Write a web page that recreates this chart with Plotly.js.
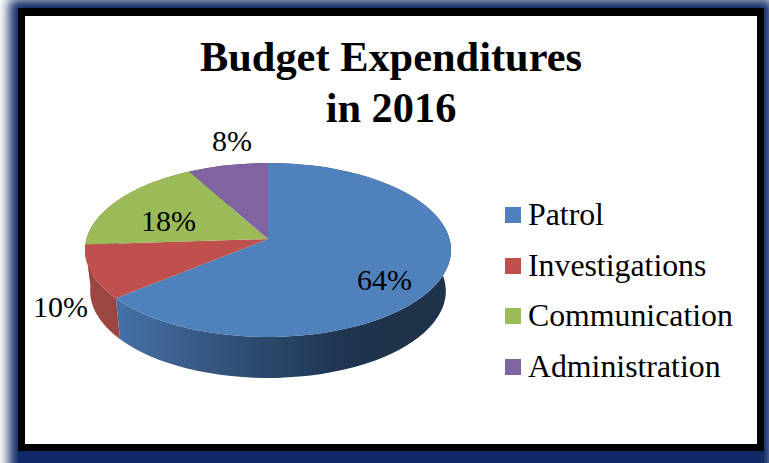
<!DOCTYPE html>
<html><head><meta charset="utf-8">
<script src="https://cdn.plot.ly/plotly-3.0.1.min.js"></script>
<style>
html,body{margin:0;padding:0;background:#fff;overflow:hidden;width:769px;height:463px}
#glow{position:absolute;left:18px;top:8px;width:746px;height:470px;background:#0f2a66;box-shadow:0 0 11px 9px #0f2a66}
#band{position:absolute;left:18px;top:8px;width:746px;height:443px;background:#000}
#inner{position:absolute;left:25px;top:16px;width:732px;height:428px;background:#fff}
#chart{position:absolute;left:0;top:0;width:769px;height:463px}
</style></head><body>
<div id="glow"></div><div id="band"></div><div id="inner"></div><div id="chart"></div>
<script>
var categories = ['Patrol','Investigations','Communication','Administration'];
var values = [64,10,18,8];
var topColors = ['#4f81bd','#c0504d','#9bbb59','#8064a2'];
var sideColors = ['#2f4f75','#9c4643','#9c4643','#64507f'];
var labelPixels = [[384,279],[60,306],[168,220],[232,140]];
var legendRows = [215,266,316,367];

var W=769,H=463;
var FONT='"Liberation Serif","Times New Roman",serif';
var common={labels:categories,values:values,type:'pie',sort:false,direction:'clockwise',rotation:0,
  textinfo:'none',hoverinfo:'skip',domain:{x:[0.1,0.5],y:[0.2,0.8]}};
var data=[
  Object.assign({},common,{marker:{colors:sideColors,line:{width:0}},showlegend:false}),
  Object.assign({},common,{marker:{colors:topColors,line:{width:0}},showlegend:true})
];
var layout={width:W,height:H,margin:{l:0,r:0,t:0,b:0},paper_bgcolor:'rgba(0,0,0,0)',plot_bgcolor:'rgba(0,0,0,0)',
  font:{family:FONT,color:'#000'},
  title:{text:'<b>Budget Expenditures<br>in 2016</b>',font:{family:FONT,size:42.4,color:'#000'},x:391/W,xanchor:'center',y:1-29/H,yanchor:'top',yref:'paper'},
  legend:{x:0.64,y:0.55,xanchor:'left',yanchor:'middle',font:{family:FONT,size:31.8,color:'#000'},bgcolor:'rgba(0,0,0,0)',traceorder:'normal'},
  annotations:values.map(function(v,i){return {text:v+'%',xref:'paper',yref:'paper',x:labelPixels[i][0]/W,y:1-labelPixels[i][1]/H,xanchor:'center',yanchor:'middle',showarrow:false,font:{family:FONT,size:30,color:'#000'}};})
};
// perspective projection of the round pie onto the tilted disc
var C={x:268,y:250,rx:183,ry:87,apex:-11,depth:41,shrink:0.972};
var w=C.apex/C.ry;
var a=C.rx*Math.sqrt(1-w*w);
function proj(u,v){var q=1+w*v;return [C.x+a*u/q,C.y+(C.ry*v+C.apex)/q];}
function low(p){return [C.x+(p[0]-C.x)*C.shrink,p[1]+C.depth];}
function parse(d){
  var n=d.match(/-?\d*\.?\d+(?:e-?\d+)?/g).map(Number);
  var x=n[2],y=n[3],r=Math.hypot(x,y),pts=[[x/r,y/r]],flags=[];
  for(var i=4;i+6<n.length;i+=7){x+=n[i+5];y+=n[i+6];pts.push([x/r,y/r]);flags.push(n[i+3]);}
  return {pts:pts,flags:flags};
}
function warpTop(p){
  var c=proj(0,0),s=p.pts.map(function(q){return proj(q[0],q[1]);});
  var d='M'+c[0]+','+c[1]+'L'+s[0][0]+','+s[0][1];
  for(var i=1;i<s.length;i++)d+='A'+C.rx+','+C.ry+' 0 '+p.flags[i-1]+' 1 '+s[i][0]+','+s[i][1];
  return d+'Z';
}
function warpSide(p){
  var s=p.pts.map(function(q){return proj(q[0],q[1]);}),d='M'+s[0][0]+','+s[0][1],i,e;
  for(i=1;i<s.length;i++)d+='A'+C.rx+','+C.ry+' 0 '+p.flags[i-1]+' 1 '+s[i][0]+','+s[i][1];
  e=low(s[s.length-1]);d+='L'+e[0]+','+e[1];
  for(i=s.length-2;i>=0;i--){e=low(s[i]);d+='A'+(C.rx*C.shrink)+','+C.ry+' 0 '+p.flags[i]+' 0 '+e[0]+','+e[1];}
  return d+'Z';
}
Plotly.newPlot('chart',data,layout,{staticPlot:true,displayModeBar:false}).then(function(){
  var root=document.getElementById('chart'),NS='http://www.w3.org/2000/svg';
  var defs=root.querySelector('svg.main-svg defs');
  var g=document.createElementNS(NS,'linearGradient');
  g.setAttribute('id','sideBlue');g.setAttribute('gradientUnits','userSpaceOnUse');
  g.setAttribute('x1','115');g.setAttribute('x2','400');g.setAttribute('y1','0');g.setAttribute('y2','0');
  [[0,'#4672a8'],[0.18,'#3d6392'],[0.5,'#2c4a6e'],[0.8,'#1f3550'],[1,'#1e3349']].forEach(function(s){
    var st=document.createElementNS(NS,'stop');st.setAttribute('offset',s[0]);st.setAttribute('stop-color',s[1]);g.appendChild(st);});
  defs.appendChild(g);
  var traces=root.querySelectorAll('.pielayer .trace');
  traces[0].querySelectorAll('path.surface').forEach(function(el,i){
    el.setAttribute('d',warpSide(parse(el.getAttribute('d'))));
    if(i===0)el.style.fill='url(#sideBlue)';
  });
  traces[1].querySelectorAll('path.surface').forEach(function(el){
    el.setAttribute('d',warpTop(parse(el.getAttribute('d'))));
  });
  // legend rows
  var leg=root.querySelector('g.legend');
  leg.setAttribute('transform','translate(0,0)');
  var sb=leg.querySelector('.scrollbox');sb.removeAttribute('clip-path');sb.setAttribute('transform','translate(0,0)');
  var bg=leg.querySelector('rect.bg');if(bg)bg.style.display='none';
  leg.querySelectorAll('g.traces').forEach(function(t,i){
    t.setAttribute('transform','translate(0,'+legendRows[i]+')');
    var tx=t.querySelector('text.legendtext');tx.setAttribute('x','528');
    tx.setAttribute('y','10');
    var sw=t.querySelector('path.legendpie');
    if(sw){sw.setAttribute('d','M8,8H-8V-8H8Z');sw.setAttribute('transform','translate(513,0)');}
  });
  // title line spacing
  var tt=root.querySelector('.gtitle');
  if(tt){
    var l=tt.querySelectorAll('tspan.line');
    if(l.length>1){
      l[0].setAttribute('y','71');l[0].removeAttribute('dy');
      l[1].setAttribute('y','122');l[1].removeAttribute('dy');
    }
    tt.querySelectorAll('tspan:not(.line)').forEach(function(s){s.removeAttribute('dy');s.removeAttribute('y');});
    tt.removeAttribute('dy');
  }
});
</script></body></html>
